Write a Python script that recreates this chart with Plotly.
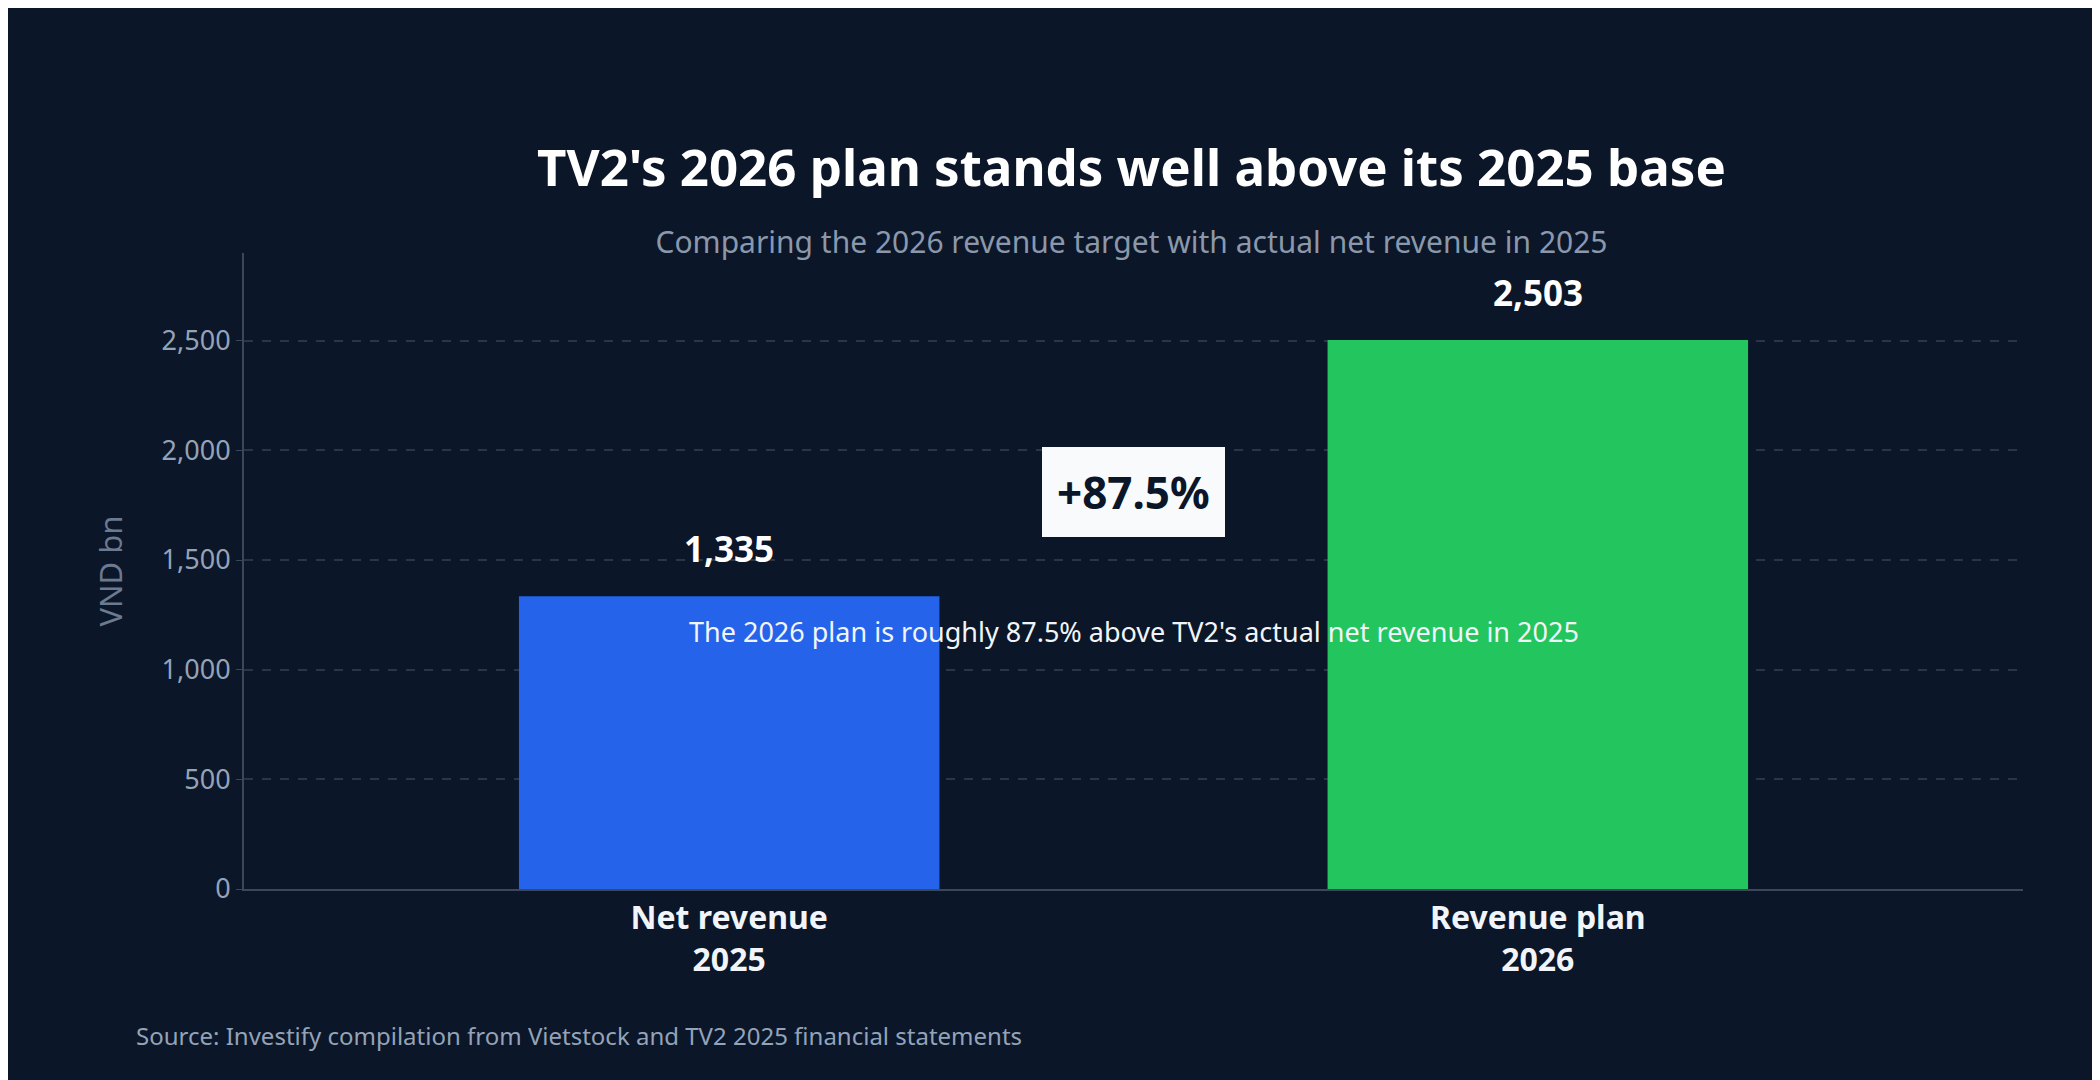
import plotly.graph_objects as go

categories = ["<b>Net revenue<br>2025</b>", "<b>Revenue plan<br>2026</b>"]
values = [1335, 2503]
value_labels = ["1,335", "2,503"]
bar_colors = ["#2563eb", "#22c55e"]
change_label = "+87.5%"
note = "The 2026 plan is roughly 87.5% above TV2's actual net revenue in 2025"

bg = "#0b1628"
font = "Noto Sans"

fig = go.Figure(go.Bar(
    x=[0, 1], y=values, width=0.52, marker_color=bar_colors, marker_line_width=0,
))

# value labels above bars
for i, (v, t) in enumerate(zip(values, value_labels)):
    fig.add_annotation(x=i, y=v, text="<b>%s</b>" % t, showarrow=False,
                       yanchor="bottom", yshift=22,
                       font=dict(size=35, color="white", family=font))

fig.add_annotation(x=0.5, y=1809, text="<b>%s</b>" % change_label, showarrow=False,
                   font=dict(size=44, color="#0b1628", family=font),
                   bgcolor="#f8fafc", borderpad=14, bordercolor="#f8fafc")
fig.add_annotation(x=0.5, y=1174, text=note, showarrow=False,
                   font=dict(size=27, color="#f1f5f9", family=font))
fig.add_annotation(xref="paper", yref="paper", x=-0.062, y=-0.23, xanchor="left",
                   yanchor="middle",
                   text="Source: Investify compilation from Vietstock and TV2 2025 financial statements",
                   showarrow=False, font=dict(size=24, color="#94a3b8", family=font))

fig.update_layout(
    width=2100, height=1080, paper_bgcolor=bg, plot_bgcolor=bg,
    margin=dict(l=236, r=85, t=245, b=199),
    font=dict(family=font, color="#94a3b8"),
    showlegend=False,
    title=dict(text="<b>TV2's 2026 plan stands well above its 2025 base</b>"
                    "<br><span style='font-size:30px;color:#8b98ab'>Comparing the 2026 revenue target with actual net revenue in 2025</span>",
               x=0.535, xanchor="center", y=0.835, yanchor="middle",
               font=dict(size=51, color="white", family=font)),
    xaxis=dict(range=[-0.6, 1.6], tickvals=[0, 1], ticktext=categories,
               tickfont=dict(size=32, color="#f1f5f9"), showgrid=False,
               showline=True, linecolor="#3b475a", linewidth=2, zeroline=False),
    yaxis=dict(range=[0, 2900], tickvals=[0, 500, 1000, 1500, 2000, 2500],
               tickformat=",", tickfont=dict(size=27, color="#94a3b8"),
               title=dict(text="VND bn", font=dict(size=31, color="#6b7a90"), standoff=30),
               showgrid=True, gridcolor="#2a3547", griddash="dash", gridwidth=1.5,
               showline=True, linecolor="#3b475a", linewidth=2, zeroline=False,
               ticks="outside", ticklen=6, tickcolor="#3b475a"),
)

fig.write_html("out.html")
